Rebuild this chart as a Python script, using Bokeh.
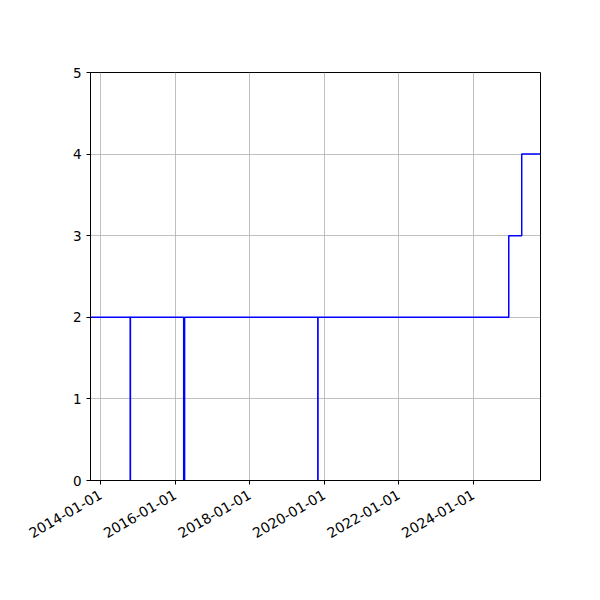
import math
import pandas as pd
from bokeh.plotting import figure
from bokeh.models import Range1d, FixedTicker, DatetimeTickFormatter
from bokeh.embed import file_html
from bokeh.resources import INLINE

# step series: value holds from each date until the next one
dates = ["2013-09-24", "2014-10-18", "2014-10-20", "2016-03-25", "2016-04-03",
         "2019-10-30", "2019-11-01", "2024-12-13", "2025-04-19", "2025-10-20"]
counts = [2, 0, 2, 0, 2, 0, 2, 3, 4, 4]
tick_dates = ["2014-01-01", "2016-01-01", "2018-01-01", "2020-01-01", "2022-01-01", "2024-01-01"]
y_ticks = [0, 1, 2, 3, 4, 5]

x = pd.to_datetime(dates)
ticks_ms = [pd.Timestamp(d).value // 10**6 for d in tick_dates]

p = figure(width=584, height=584, output_backend="svg", toolbar_location=None,
           x_axis_type="datetime",
           x_range=Range1d(x[0], x[-1]), y_range=Range1d(0, 5),
           min_border_left=90, min_border_right=44, min_border_top=72, min_border_bottom=104)

p.step(x, counts, mode="after", line_color="#0000ff", line_width=1.5)

p.outline_line_color = "black"
p.outline_line_width = 1
p.outline_line_alpha = 1

for ax in (p.xaxis, p.yaxis):
    ax.axis_line_color = "black"
    ax.major_tick_line_color = "black"
    ax.major_tick_out = 4
    ax.major_tick_in = 0
    ax.minor_tick_line_color = None
    ax.major_label_text_font = "DejaVu Sans"
    ax.major_label_text_font_size = "13.5px"
    ax.major_label_text_color = "black"
    ax.major_label_standoff = 5

p.xaxis.ticker = FixedTicker(ticks=ticks_ms)
p.xaxis.formatter = DatetimeTickFormatter(days="%Y-%m-%d", months="%Y-%m-%d", years="%Y-%m-%d")
p.xaxis.major_label_orientation = math.pi / 6
p.xaxis.major_label_text_font_size = "14px"
p.xaxis.major_label_standoff = 9
p.yaxis.ticker = FixedTicker(ticks=y_ticks)

p.grid.grid_line_color = "#b0b0b0"
p.grid.grid_line_width = 0.8
p.xgrid.ticker = FixedTicker(ticks=ticks_ms)
p.ygrid.ticker = FixedTicker(ticks=y_ticks)

open("out.html", "w").write(file_html(p, INLINE))
